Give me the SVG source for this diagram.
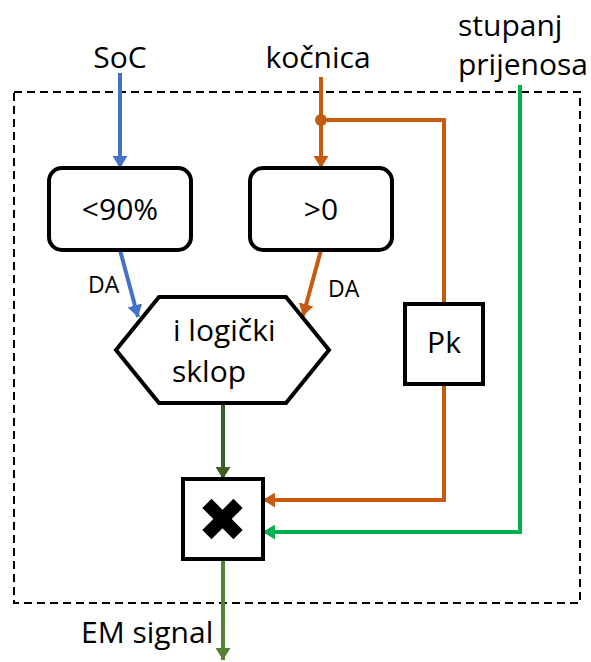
<svg xmlns="http://www.w3.org/2000/svg" width="591" height="662" viewBox="0 0 591 662">
<style>
  text { font-family: "Open Sans", "Liberation Sans", sans-serif; fill: #000; }
  .lbl { font-size: 30px; }
  .da { font-size: 23px; }
  .box { fill: #fff; stroke: #000; stroke-width: 4; }
  .wire { fill: none; stroke-width: 4; }
</style>
<defs>
  <marker id="aBlue" markerUnits="userSpaceOnUse" markerWidth="12" markerHeight="15" refX="12" refY="7.5" orient="auto"><path d="M0,0 L12,7.5 L0,15 z" fill="#4472c4"/></marker>
  <marker id="aOrange" markerUnits="userSpaceOnUse" markerWidth="12" markerHeight="15" refX="12" refY="7.5" orient="auto"><path d="M0,0 L12,7.5 L0,15 z" fill="#c55a11"/></marker>
  <marker id="aGreen" markerUnits="userSpaceOnUse" markerWidth="12" markerHeight="15" refX="12" refY="7.5" orient="auto"><path d="M0,0 L12,7.5 L0,15 z" fill="#00b050"/></marker>
  <marker id="aDark" markerUnits="userSpaceOnUse" markerWidth="12" markerHeight="15" refX="12" refY="7.5" orient="auto"><path d="M0,0 L12,7.5 L0,15 z" fill="#3d5e26"/></marker>
  <marker id="aOut" markerUnits="userSpaceOnUse" markerWidth="12" markerHeight="15" refX="12" refY="7.5" orient="auto"><path d="M0,0 L12,7.5 L0,15 z" fill="#548235"/></marker>
</defs>

<rect id="boundary" x="14" y="92" width="566" height="511" fill="none" stroke="#000" stroke-width="2" stroke-dasharray="8 5"/>

<g id="inputs">
  <text class="lbl" x="120" y="68" text-anchor="middle">SoC</text>
  <text class="lbl" x="318" y="68" text-anchor="middle">kočnica</text>
  <text class="lbl" x="458" y="36">stupanj</text>
  <text class="lbl" x="458" y="75">prijenosa</text>
  <text class="lbl" x="81" y="643">EM signal</text>
</g>

<g id="connectors">
  <line class="wire" x1="120" y1="73" x2="120" y2="168" stroke="#4472c4" marker-end="url(#aBlue)"/>
  <line class="wire" x1="120" y1="250" x2="138" y2="317" stroke="#4472c4" marker-end="url(#aBlue)"/>
  <line class="wire" x1="321" y1="77" x2="321" y2="168" stroke="#c55a11" marker-end="url(#aOrange)"/>
  <circle cx="321" cy="120" r="6" fill="#c55a11"/>
  <polyline class="wire" points="321,120 444,120 444,304" stroke="#c55a11"/>
  <polyline class="wire" points="444,384 444,500 263,500" stroke="#c55a11" marker-end="url(#aOrange)"/>
  <line class="wire" x1="321" y1="250" x2="303" y2="316" stroke="#c55a11" marker-end="url(#aOrange)"/>
  <polyline class="wire" points="520,85 520,532 263,532" stroke="#00b050" marker-end="url(#aGreen)"/>
  <line class="wire" x1="223" y1="403" x2="223" y2="479" stroke="#3d5e26" marker-end="url(#aDark)"/>
  <line class="wire" x1="223" y1="559" x2="223" y2="660" stroke="#548235" marker-end="url(#aOut)"/>
  <text class="da" x="88" y="293">DA</text>
  <text class="da" x="328" y="297">DA</text>
</g>

<g id="soc-check">
  <rect class="box" x="49" y="168" width="142" height="82" rx="13"/>
  <text class="lbl" x="120" y="220" text-anchor="middle">&lt;90%</text>
</g>

<g id="brake-check">
  <rect class="box" x="250" y="168" width="142" height="82" rx="13"/>
  <text class="lbl" x="321" y="220" text-anchor="middle">&gt;0</text>
</g>

<g id="and-gate">
  <polygon class="box" points="116,350 159,297 286,297 329,350 286,403 159,403"/>
  <text class="lbl" x="173" y="341">i logički</text>
  <text class="lbl" x="172" y="382">sklop</text>
</g>

<g id="pk">
  <rect class="box" x="405" y="304" width="78" height="80"/>
  <text class="lbl" x="444" y="353" text-anchor="middle">Pk</text>
</g>

<g id="multiplier">
  <rect class="box" x="183" y="479" width="80" height="80"/>
  <g transform="translate(222.5,519) rotate(45)">
    <rect x="-22" y="-6.5" width="44" height="13" fill="#000"/>
    <rect x="-6.5" y="-22" width="13" height="44" fill="#000"/>
  </g>
</g>
</svg>
